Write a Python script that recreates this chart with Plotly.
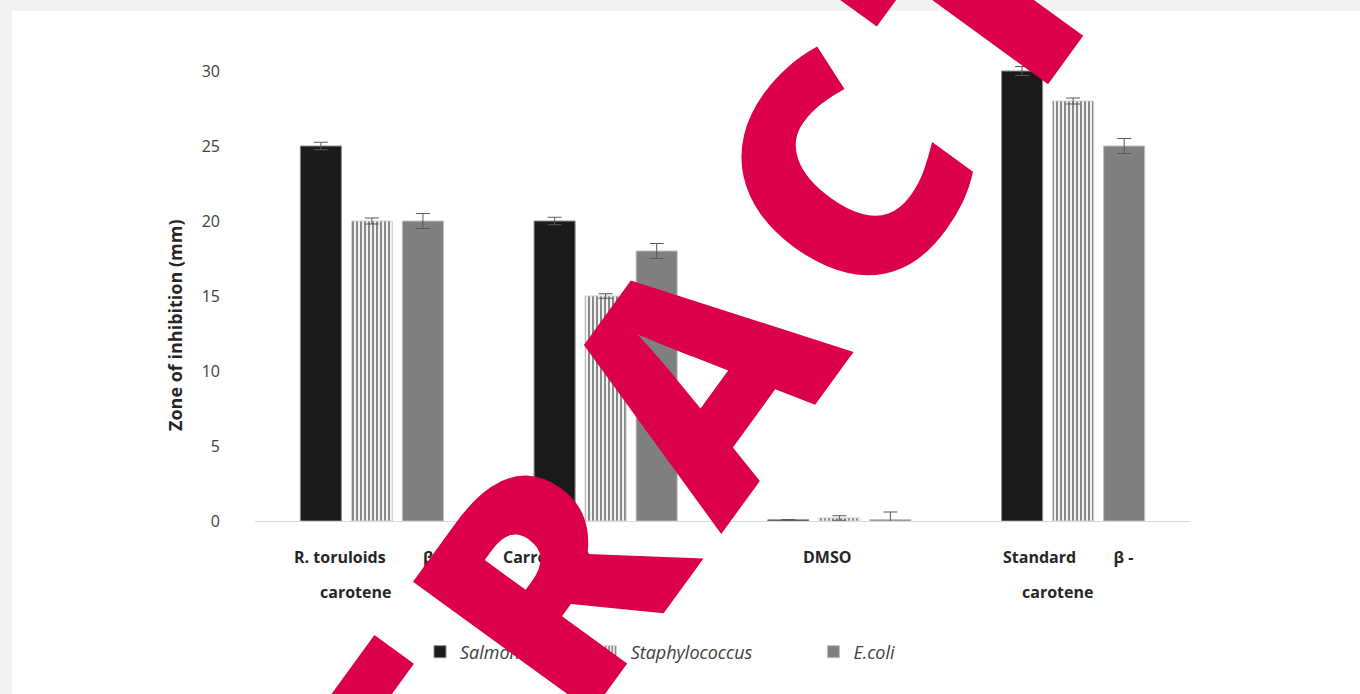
import plotly.graph_objects as go

# Inhibition zones (mm) for each extract against three bacteria
categories = ["R. toruloids β-carotene", "Carrot β-carotene", "DMSO", "Standard β-carotene"]
NB = "\u00a0"
label_line1 = ["R. toruloids" + NB * 9 + "β-",
               "Carrot" + NB * 6 + "β-",
               "DMSO",
               "Standard" + NB * 9 + "β -"]
label_line2 = ["carotene", "carotene", "", "carotene"]

series_names = ["Salmonella", "Staphylococcus", "E.coli"]
salmonella = [25.0, 20.0, 0.08, 30.0]
salmonella_err = [0.25, 0.25, 0.0, 0.3]
staphylococcus = [20.0, 15.0, 0.2, 28.0]
staphylococcus_err = [0.2, 0.15, 0.15, 0.2]
ecoli = [20.0, 18.0, 0.1, 25.0]
ecoli_err = [0.5, 0.5, 0.5, 0.5]

y_ticks = [0, 5, 10, 15, 20, 25, 30]

W, H = 1360, 694
L, R, T, B = 255, 170, 59, 173
PW, PH = W - L - R, H - T - B


def px_to_paper(px, py):
    return (px - L) / PW, (H - B - py) / PH


FONT = "Open Sans"
err_style = dict(type="data", color="#595959", thickness=1, width=7)
# trailing spacing widens the gaps between legend entries
legend_pad = [NB * 8, NB * 12, ""]
# horizontal nudges for the first label line (pixels)
line1_shift = {"DMSO": -12, "Carrot β-carotene": -57}

fig = go.Figure()
fig.add_trace(go.Bar(
    x=categories, y=salmonella, name=f"<i>{series_names[0]}</i>{legend_pad[0]}",
    marker=dict(color="#1a1a1a", line=dict(color="#8c8c8c", width=1)),
    error_y=dict(array=salmonella_err, **err_style),
))
fig.add_trace(go.Bar(
    x=categories, y=staphylococcus, name=f"<i>{series_names[1]}</i>{legend_pad[1]}",
    marker=dict(color="white", line=dict(color="#d0d0d0", width=1),
                pattern=dict(shape="|", fgcolor="#111111", bgcolor="white",
                             size=4, solidity=0.55, fillmode="overlay")),
    error_y=dict(array=staphylococcus_err, **err_style),
))
fig.add_trace(go.Bar(
    x=categories, y=ecoli, name=f"<i>{series_names[2]}</i>{legend_pad[2]}",
    marker=dict(color="#7f7f7f", line=dict(color="#bfbfbf", width=1)),
    error_y=dict(array=ecoli_err, **err_style),
))

# White chart panel on the light grey page
x0, y0 = px_to_paper(12, 11)
x1, y1 = px_to_paper(W + 20, H + 20)
fig.add_shape(type="rect", xref="paper", yref="paper", x0=x0, y0=y1, x1=x1, y1=y0,
              fillcolor="white", line=dict(width=0), layer="below")

# Two-line category labels under the axis
for cat, l1, l2 in zip(categories, label_line1, label_line2):
    fig.add_annotation(x=cat, xref="x", y=0, yref="paper", text=f"<b>{l1}</b>",
                       showarrow=False, yanchor="middle", yshift=-36,
                       xshift=line1_shift.get(cat, -5),
                       font=dict(family=FONT, size=16, color="#262626"))
    if l2:
        fig.add_annotation(x=cat, xref="x", y=0, yref="paper", text=f"<b>{l2}</b>",
                           showarrow=False, yanchor="middle", yshift=-71, xshift=-16,
                           font=dict(family=FONT, size=16, color="#262626"))

# Y-axis title
tx, ty = px_to_paper(175, 325)
fig.add_annotation(x=tx, y=ty, xref="paper", yref="paper",
                   text="<b>Zone of inhibition (mm)</b>", showarrow=False, textangle=-90,
                   xanchor="center", yanchor="middle",
                   font=dict(family=FONT, size=18, color="#262626"))

# Diagonal RETRACTED stamp
wx, wy = px_to_paper(703, 355)
fig.add_annotation(x=wx, y=wy, xref="paper", yref="paper",
                   text='<span style="letter-spacing:34px">RETRACTED</span>',
                   showarrow=False, textangle=-54, xanchor="center", yanchor="middle",
                   font=dict(family=FONT, size=310, weight=800, color="#dc0048"))

lx, ly = px_to_paper(420, 652)
fig.update_layout(
    width=W, height=H,
    margin=dict(l=L, r=R, t=T, b=B, pad=0),
    paper_bgcolor="#f2f2f2",
    plot_bgcolor="white",
    barmode="group", bargap=0.345, bargroupgap=0.196,
    showlegend=True,
    legend=dict(orientation="h", x=lx, y=ly, xanchor="left", yanchor="middle",
                font=dict(family=FONT, size=18, color="#404040"),
                bgcolor="rgba(0,0,0,0)", itemwidth=30, traceorder="normal"),
    font=dict(family=FONT, color="#404040"),
    xaxis=dict(showticklabels=False, showline=True, linecolor="#d9d9d9", linewidth=1,
               ticks="", showgrid=False, range=[-0.5, 3.5], zeroline=False),
    yaxis=dict(range=[0, 30.8], tickvals=y_ticks, showgrid=False, zeroline=False,
               showline=False, ticks="", ticklabelstandoff=34,
               tickfont=dict(family=FONT, size=16, color="#404040")),
)

fig.write_html("out.html")
